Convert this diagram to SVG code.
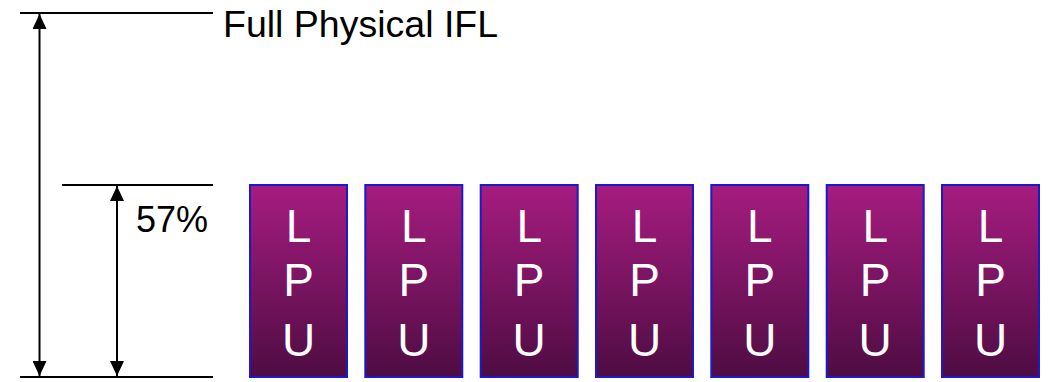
<svg xmlns="http://www.w3.org/2000/svg" width="1048" height="382" viewBox="0 0 1048 382">
<style>
.ln{stroke:#000;stroke-width:2;fill:none}
.lbl{font-family:"Liberation Sans",Arial,sans-serif;fill:#000}
.box{fill:url(#g);stroke:#1a1acc;stroke-width:2}
.lt{font-family:"Liberation Sans",Arial,sans-serif;font-size:46px;fill:#fff;text-anchor:middle}
</style>
<defs>
<linearGradient id="g" x1="0" y1="0" x2="0" y2="1">
<stop offset="0" stop-color="#a61c80"/>
<stop offset="1" stop-color="#4e0c42"/>
</linearGradient>
<marker id="ah" viewBox="0 0 15 14" refX="15" refY="7" markerWidth="15" markerHeight="14" markerUnits="userSpaceOnUse" orient="auto">
<path d="M0,0 L15,7 L0,14 Z" fill="#000"/>
</marker>
</defs>
<g id="connectors">
<line class="ln" x1="20" y1="13" x2="213" y2="13"/>
<line class="ln" x1="62" y1="185" x2="213" y2="185"/>
<line class="ln" x1="20" y1="377" x2="213" y2="377"/>
<line class="ln" x1="39.5" y1="195" x2="39.5" y2="14" marker-end="url(#ah)"/>
<line class="ln" x1="39.5" y1="195" x2="39.5" y2="376" marker-end="url(#ah)"/>
<line class="ln" x1="117" y1="280" x2="117" y2="186" marker-end="url(#ah)"/>
<line class="ln" x1="117" y1="280" x2="117" y2="376" marker-end="url(#ah)"/>
</g>
<g id="label-full"><text class="lbl" x="223" y="37" font-size="37.5">Full Physical IFL</text></g>
<g id="label-57"><text class="lbl" x="136" y="232" font-size="36">57%</text></g>
<g id="lpu1"><rect class="box" x="250" y="185" width="97" height="192"/><text class="lt" x="298.5" y="242">L</text><text class="lt" x="298.5" y="296">P</text><text class="lt" x="298.5" y="356">U</text></g>
<g id="lpu2"><rect class="box" x="365.3" y="185" width="97" height="192"/><text class="lt" x="413.8" y="242">L</text><text class="lt" x="413.8" y="296">P</text><text class="lt" x="413.8" y="356">U</text></g>
<g id="lpu3"><rect class="box" x="480.7" y="185" width="97" height="192"/><text class="lt" x="529.2" y="242">L</text><text class="lt" x="529.2" y="296">P</text><text class="lt" x="529.2" y="356">U</text></g>
<g id="lpu4"><rect class="box" x="596" y="185" width="97" height="192"/><text class="lt" x="644.5" y="242">L</text><text class="lt" x="644.5" y="296">P</text><text class="lt" x="644.5" y="356">U</text></g>
<g id="lpu5"><rect class="box" x="711.3" y="185" width="97" height="192"/><text class="lt" x="759.8" y="242">L</text><text class="lt" x="759.8" y="296">P</text><text class="lt" x="759.8" y="356">U</text></g>
<g id="lpu6"><rect class="box" x="826.7" y="185" width="97" height="192"/><text class="lt" x="875.2" y="242">L</text><text class="lt" x="875.2" y="296">P</text><text class="lt" x="875.2" y="356">U</text></g>
<g id="lpu7"><rect class="box" x="942" y="185" width="97" height="192"/><text class="lt" x="990.5" y="242">L</text><text class="lt" x="990.5" y="296">P</text><text class="lt" x="990.5" y="356">U</text></g>
</svg>
